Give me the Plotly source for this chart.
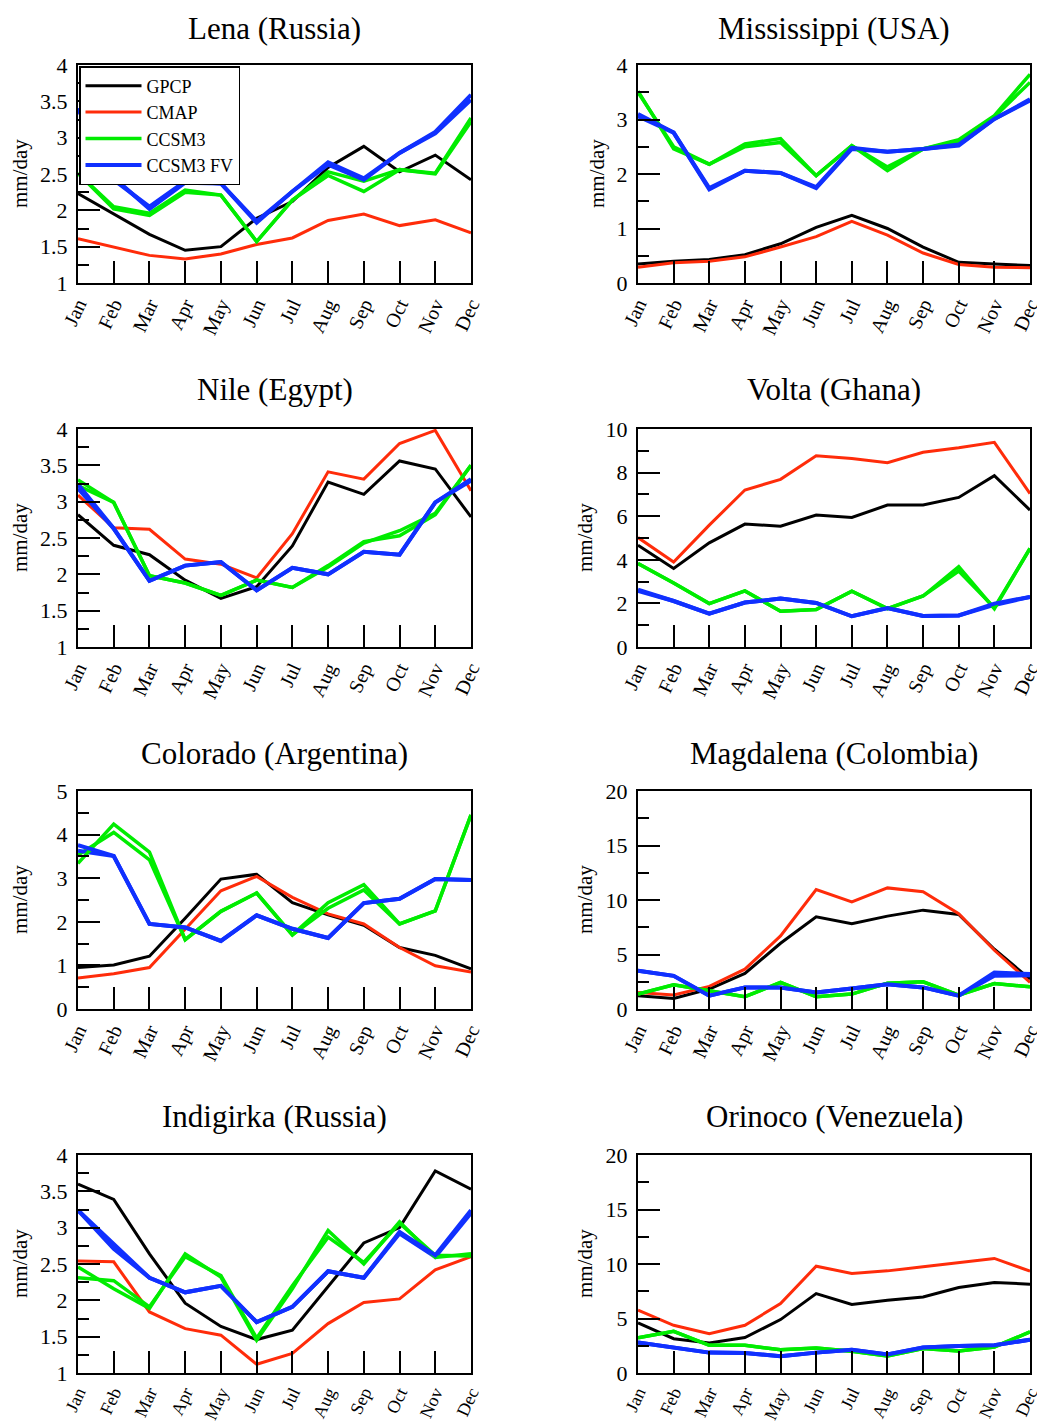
import plotly.graph_objects as go

months = ["Jan", "Feb", "Mar", "Apr", "May", "Jun", "Jul", "Aug", "Sep", "Oct", "Nov", "Dec"]
series_names = ["GPCP", "CMAP", "CCSM3", "CCSM3 FV"]
series_colors = ["#000000", "#ff2c0a", "#00ec00", "#1030ff"]
series_widths = [3, 3, 3.5, 4]

titles = ["Lena (Russia)", "Mississippi (USA)", "Nile (Egypt)", "Volta (Ghana)",
          "Colorado (Argentina)", "Magdalena (Colombia)", "Indigirka (Russia)", "Orinoco (Venezuela)"]

# Each model (CCSM3, CCSM3 FV) is drawn as two nearly overlapping runs (a / b)
lena_gpcp = [2.23, 1.95, 1.67, 1.45, 1.50, 1.89, 2.12, 2.59, 2.88, 2.53, 2.76, 2.42]
lena_cmap = [1.61, 1.50, 1.38, 1.33, 1.40, 1.53, 1.62, 1.86, 1.95, 1.79, 1.87, 1.69]
lena_ccsm3 = [2.51, 2.02, 1.93, 2.25, 2.21, 1.57, 2.14, 2.48, 2.26, 2.56, 2.50, 3.22]
lena_ccsm3_b = [2.51, 2.05, 1.96, 2.28, 2.21, 1.57, 2.14, 2.53, 2.40, 2.56, 2.51, 3.27]
lena_fv = [3.40, 2.42, 2.05, 2.40, 2.37, 1.85, 2.26, 2.66, 2.44, 2.79, 3.08, 3.59]
lena_fv_b = [3.40, 2.45, 2.02, 2.38, 2.37, 1.83, 2.26, 2.63, 2.42, 2.79, 3.06, 3.52]

miss_gpcp = [0.35, 0.40, 0.43, 0.52, 0.72, 1.02, 1.24, 1.00, 0.66, 0.38, 0.35, 0.32]
miss_cmap = [0.29, 0.37, 0.40, 0.48, 0.66, 0.85, 1.13, 0.88, 0.55, 0.34, 0.29, 0.28]
miss_ccsm3 = [3.52, 2.46, 2.18, 2.55, 2.65, 1.97, 2.52, 2.06, 2.46, 2.63, 3.07, 3.83]
miss_ccsm3_b = [3.50, 2.50, 2.18, 2.50, 2.58, 1.97, 2.52, 2.13, 2.46, 2.60, 3.05, 3.68]
miss_fv = [3.10, 2.76, 1.74, 2.06, 2.02, 1.76, 2.48, 2.41, 2.46, 2.54, 3.01, 3.37]
miss_fv_b = [3.06, 2.76, 1.72, 2.06, 2.02, 1.74, 2.46, 2.41, 2.46, 2.52, 3.01, 3.35]

nile_gpcp = [2.82, 2.40, 2.27, 1.92, 1.67, 1.83, 2.39, 3.27, 3.10, 3.56, 3.45, 2.79]
nile_cmap = [3.09, 2.64, 2.62, 2.21, 2.14, 1.95, 2.56, 3.41, 3.31, 3.80, 3.98, 3.15]
nile_ccsm3 = [3.30, 2.99, 1.98, 1.88, 1.71, 1.92, 1.82, 2.10, 2.43, 2.60, 2.84, 3.50]
nile_ccsm3_b = [3.22, 2.99, 1.98, 1.88, 1.71, 1.92, 1.82, 2.12, 2.45, 2.53, 2.82, 3.50]
nile_fv = [3.24, 2.63, 1.91, 2.12, 2.17, 1.78, 2.09, 2.00, 2.31, 2.27, 2.99, 3.31]
nile_fv_b = [3.18, 2.63, 1.91, 2.12, 2.17, 1.78, 2.09, 2.00, 2.31, 2.27, 2.99, 3.29]

volta_gpcp = [4.67, 3.60, 4.78, 5.64, 5.54, 6.05, 5.94, 6.51, 6.51, 6.86, 7.86, 6.28]
volta_cmap = [5.02, 3.90, 5.59, 7.20, 7.69, 8.77, 8.65, 8.45, 8.93, 9.14, 9.39, 7.04]
volta_ccsm3 = [3.83, 2.94, 1.99, 2.57, 1.64, 1.72, 2.56, 1.76, 2.34, 3.68, 1.76, 4.52]
volta_ccsm3_b = [3.83, 2.94, 1.99, 2.57, 1.64, 1.72, 2.56, 1.76, 2.34, 3.48, 1.80, 4.52]
volta_fv = [2.63, 2.11, 1.53, 2.04, 2.22, 2.02, 1.41, 1.79, 1.42, 1.45, 1.99, 2.30]
volta_fv_b = [2.57, 2.11, 1.53, 2.04, 2.22, 2.02, 1.41, 1.79, 1.42, 1.45, 1.93, 2.30]

colo_gpcp = [0.95, 1.01, 1.21, 2.08, 2.98, 3.09, 2.44, 2.16, 1.92, 1.41, 1.23, 0.92]
colo_cmap = [0.71, 0.81, 0.95, 1.82, 2.71, 3.04, 2.56, 2.18, 1.95, 1.41, 0.99, 0.85]
colo_ccsm3 = [3.34, 4.24, 3.60, 1.59, 2.24, 2.66, 1.70, 2.44, 2.85, 1.95, 2.25, 4.45]
colo_ccsm3_b = [3.53, 4.05, 3.42, 1.59, 2.24, 2.66, 1.70, 2.31, 2.73, 1.95, 2.25, 4.45]
colo_fv = [3.76, 3.51, 1.95, 1.87, 1.56, 2.15, 1.84, 1.63, 2.43, 2.53, 2.98, 2.96]
colo_fv_b = [3.63, 3.51, 1.95, 1.87, 1.56, 2.15, 1.84, 1.63, 2.43, 2.53, 2.98, 2.96]

magd_gpcp = [1.22, 0.97, 1.83, 3.26, 6.03, 8.46, 7.82, 8.52, 9.07, 8.68, 5.48, 2.74]
magd_cmap = [1.52, 1.28, 2.07, 3.65, 6.70, 10.96, 9.83, 11.11, 10.75, 8.74, 5.39, 2.44]
magd_ccsm3 = [1.37, 2.22, 1.67, 1.13, 2.44, 1.13, 1.37, 2.37, 2.50, 1.28, 2.34, 2.04]
magd_ccsm3_b = [1.37, 2.22, 1.67, 1.13, 2.44, 1.13, 1.37, 2.37, 2.50, 1.28, 2.34, 2.04]
magd_fv = [3.50, 3.04, 1.22, 1.98, 1.98, 1.52, 1.89, 2.28, 1.98, 1.22, 3.35, 3.20]
magd_fv_b = [3.50, 3.04, 1.22, 1.98, 1.98, 1.52, 1.89, 2.28, 1.98, 1.22, 3.05, 3.10]

indi_gpcp = [3.60, 3.39, 2.64, 1.96, 1.64, 1.46, 1.59, 2.19, 2.79, 3.00, 3.78, 3.53]
indi_cmap = [2.54, 2.53, 1.84, 1.61, 1.52, 1.12, 1.27, 1.68, 1.97, 2.02, 2.42, 2.60]
indi_ccsm3 = [2.46, 2.16, 1.89, 2.64, 2.32, 1.45, 2.16, 2.96, 2.50, 3.08, 2.59, 2.64]
indi_ccsm3_b = [2.31, 2.27, 1.91, 2.60, 2.34, 1.48, 2.20, 2.87, 2.52, 3.06, 2.62, 2.61]
indi_fv = [3.24, 2.71, 2.31, 2.11, 2.20, 1.70, 1.91, 2.40, 2.31, 2.94, 2.62, 3.24]
indi_fv_b = [3.24, 2.78, 2.31, 2.11, 2.20, 1.70, 1.91, 2.40, 2.31, 2.92, 2.60, 3.20]

orin_gpcp = [4.59, 3.15, 2.76, 3.25, 4.90, 7.29, 6.28, 6.68, 6.98, 7.84, 8.30, 8.15]
orin_cmap = [5.76, 4.38, 3.61, 4.38, 6.37, 9.80, 9.13, 9.37, 9.74, 10.11, 10.51, 9.34]
orin_ccsm3 = [3.22, 3.83, 2.54, 2.54, 2.14, 2.30, 1.99, 1.56, 2.24, 2.02, 2.39, 3.77]
orin_ccsm3_b = [3.22, 3.83, 2.54, 2.54, 2.14, 2.30, 1.99, 1.56, 2.24, 2.02, 2.39, 3.77]
orin_fv = [2.79, 2.30, 1.87, 1.84, 1.53, 1.87, 2.14, 1.71, 2.33, 2.48, 2.54, 3.06]
orin_fv_b = [2.79, 2.30, 1.87, 1.84, 1.53, 1.87, 2.14, 1.71, 2.33, 2.48, 2.54, 3.06]

# per panel: GPCP, CMAP, CCSM3, CCSM3 FV, CCSM3 run b, CCSM3 FV run b
panel_data = [
    [lena_gpcp, lena_cmap, lena_ccsm3, lena_fv, lena_ccsm3_b, lena_fv_b],
    [miss_gpcp, miss_cmap, miss_ccsm3, miss_fv, miss_ccsm3_b, miss_fv_b],
    [nile_gpcp, nile_cmap, nile_ccsm3, nile_fv, nile_ccsm3_b, nile_fv_b],
    [volta_gpcp, volta_cmap, volta_ccsm3, volta_fv, volta_ccsm3_b, volta_fv_b],
    [colo_gpcp, colo_cmap, colo_ccsm3, colo_fv, colo_ccsm3_b, colo_fv_b],
    [magd_gpcp, magd_cmap, magd_ccsm3, magd_fv, magd_ccsm3_b, magd_fv_b],
    [indi_gpcp, indi_cmap, indi_ccsm3, indi_fv, indi_ccsm3_b, indi_fv_b],
    [orin_gpcp, orin_cmap, orin_ccsm3, orin_fv, orin_ccsm3_b, orin_fv_b],
]

# y axis ranges, major and minor tick steps
y_ranges = [(1, 4), (0, 4), (1, 4), (0, 10), (0, 5), (0, 20), (1, 4), (0, 20)]
y_major = [0.5, 1, 0.5, 2, 1, 5, 0.5, 5]
y_minor = [0.25, 0.5, 0.25, 1, 0.5, 2.5, 0.25, 2.5]

W, H = 1045, 1422
OFF = 8  # page body margin in the browser
col_px = [(78, 471), (638, 1030)]
row_px = [(65, 283), (429, 647), (791, 1009), (1155, 1373)]
title_y_px = [28, 390, 753, 1116]


def px_x(x):
    return (x - OFF) / W


def px_y(y):
    return 1 - (y - OFF) / H


FONT = "Liberation Serif, Times New Roman, serif"

fig = go.Figure()
layout = {}
annotations = []

# draw order: black, red, then run b of models, then main runs on top
draw_order = [0, 1, 4, 5, 2, 3]
style_of = {0: 0, 1: 1, 2: 2, 3: 3, 4: 2, 5: 3}

for i in range(8):
    r, c = divmod(i, 2)
    ax = "" if i == 0 else str(i + 1)
    x0, x1 = col_px[c]
    y0, y1 = row_px[r]
    for k in draw_order:
        s = style_of[k]
        fig.add_trace(go.Scatter(
            x=months, y=panel_data[i][k], mode="lines",
            name=series_names[s], legendrank=s + 1,
            line=dict(color=series_colors[s], width=series_widths[s]),
            showlegend=(i == 0 and k < 4),
            xaxis="x" + ax, yaxis="y" + ax,
        ))
    xfont = 18 if r == 3 else 20
    layout["xaxis" + ax] = dict(
        domain=[px_x(x0), px_x(x1)], anchor="y" + ax,
        type="category", range=[0, 11], automargin=False,
        showline=True, linecolor="black", linewidth=2, mirror=True,
        ticks="inside", ticklen=22, tickwidth=1.8, tickcolor="black",
        tickangle=-65, tickfont=dict(family=FONT, size=xfont, color="black"),
        showgrid=False, zeroline=False,
    )
    lo, hi = y_ranges[i]
    layout["yaxis" + ax] = dict(
        domain=[px_y(y1), px_y(y0)], anchor="x" + ax,
        range=[lo, hi], tick0=lo, dtick=y_major[i], automargin=False,
        showline=True, linecolor="black", linewidth=2, mirror=True,
        ticks="inside", ticklen=22, tickwidth=1.8, tickcolor="black",
        tickfont=dict(family=FONT, size=22, color="black"),
        ticklabelstandoff=4,
        minor=dict(ticks="inside", ticklen=11, tickwidth=1.8, tickcolor="black",
                   dtick=y_minor[i], tick0=lo, showgrid=False),
        showgrid=False, zeroline=False,
    )
    annotations.append(dict(
        text=titles[i], x=px_x((x0 + x1) / 2), y=px_y(title_y_px[r]),
        xref="paper", yref="paper", showarrow=False,
        xanchor="center", yanchor="middle",
        font=dict(family=FONT, size=31, color="black"),
    ))
    lab_x = 20 if c == 0 else (597 if y_ranges[i][1] < 10 else 585)
    annotations.append(dict(
        text="mm/day", x=px_x(lab_x), y=px_y((y0 + y1) / 2),
        xref="paper", yref="paper", showarrow=False, textangle=-90,
        xanchor="center", yanchor="middle",
        font=dict(family=FONT, size=21, color="black"),
    ))

fig.update_layout(
    width=W, height=H,
    margin=dict(l=0, r=0, t=0, b=0, autoexpand=False),
    paper_bgcolor="white", plot_bgcolor="white",
    annotations=annotations,
    legend=dict(
        x=px_x(79), y=px_y(66), xanchor="left", yanchor="top",
        xref="paper", yref="paper",
        bgcolor="white", bordercolor="black", borderwidth=1.5,
        font=dict(family=FONT, size=18, color="black"),
        itemwidth=56, tracegroupgap=0, traceorder="normal",
    ),
    **layout,
)

fig.write_html("out.html")
